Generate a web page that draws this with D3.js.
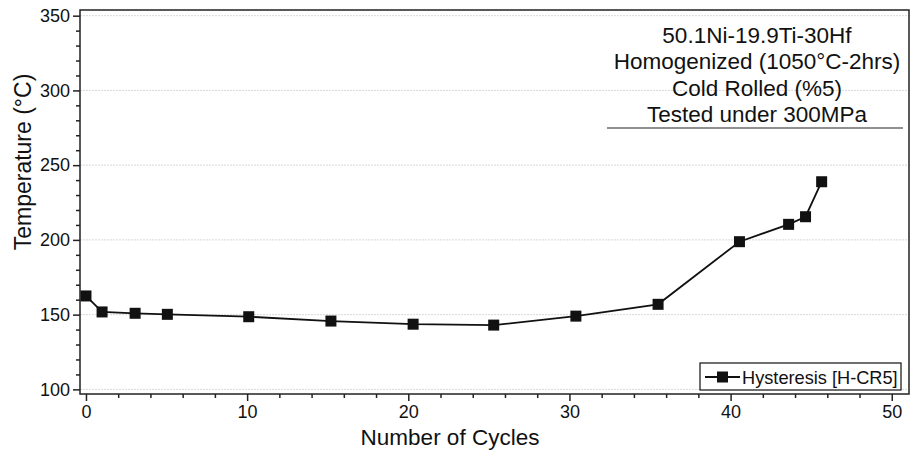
<!DOCTYPE html>
<html><head><meta charset="utf-8">
<script src="https://cdn.jsdelivr.net/npm/d3@7/dist/d3.min.js"></script>
<style>body{margin:0;background:#fff}svg{display:block}text{font-family:"Liberation Sans",Arial,sans-serif;fill:#111}</style>
</head><body><svg id="c" width="915" height="455"></svg>
<script>
const cycles = [0, 1, 3.05, 5.05, 10.1, 15.2, 20.3, 25.3, 30.4, 35.5, 40.55, 43.6, 44.65, 45.65];
const temps = [162.5, 151.8, 150.9, 150.2, 148.6, 145.7, 143.6, 143, 149, 156.9, 198.8, 210.4, 215.5, 238.9];
const xTicks = [0, 10, 20, 30, 40, 50];
const yTicks = [100, 150, 200, 250, 300, 350];
const annotation = ["50.1Ni-19.9Ti-30Hf", "Homogenized (1050°C-2hrs)", "Cold Rolled (%5)", "Tested under 300MPa"];
const seriesName = "Hysteresis [H-CR5]";

const svg = d3.select("#c");
const L = 80, R = 909, T = 10, B = 394;
const x = d3.scaleLinear().domain([-0.37, 51.07]).range([L, R]);
const y = d3.scaleLinear().domain([96.9, 353.8]).range([B, T]);

// grid
svg.append("g").selectAll("line").data(yTicks).join("line")
  .attr("x1", L).attr("x2", R).attr("y1", d => y(d)).attr("y2", d => y(d))
  .attr("stroke", "#d8d8d8").attr("stroke-width", 1).attr("stroke-dasharray", "2,1");

// frame
svg.append("rect").attr("x", L).attr("y", T).attr("width", R - L).attr("height", B - T)
  .attr("fill", "none").attr("stroke", "#222").attr("stroke-width", 1.5);

// x axis
const xMinor = d3.range(0, 51, 2).filter(d => d % 10 !== 0);
const xa = svg.append("g").attr("transform", `translate(0,${B})`);
xa.call(d3.axisBottom(x).tickValues(xTicks).tickSize(7).tickPadding(4).tickFormat(d3.format("d")));
xa.append("g").call(d3.axisBottom(x).tickValues(xMinor).tickSize(4).tickFormat(""));
xa.selectAll(".domain").remove();
xa.selectAll("line").attr("stroke", "#222").attr("stroke-width", 1.5);
xa.selectAll("text").attr("font-size", 18).attr("font-family", "Liberation Sans, Arial").attr("fill", "#111");

// y axis
const yMinor = d3.range(100, 351, 10).filter(d => d % 50 !== 0);
const ya = svg.append("g").attr("transform", `translate(${L},0)`);
ya.call(d3.axisLeft(y).tickValues(yTicks).tickSize(7).tickPadding(3).tickFormat(d3.format("d")));
ya.append("g").call(d3.axisLeft(y).tickValues(yMinor).tickSize(4).tickFormat(""));
ya.selectAll(".domain").remove();
ya.selectAll("line").attr("stroke", "#222").attr("stroke-width", 1.5);
ya.selectAll("text").attr("font-size", 18).attr("font-family", "Liberation Sans, Arial").attr("fill", "#111");

// axis labels
svg.append("text").attr("x", 450).attr("y", 445).attr("text-anchor", "middle")
  .attr("font-size", 22.5).text("Number of Cycles");
svg.append("text").attr("transform", "translate(31,162) rotate(-90)").attr("text-anchor", "middle")
  .attr("font-size", 23).text("Temperature (°C)");

// data line
const data = cycles.map((c, i) => ({c, t: temps[i]}));
svg.append("path").datum(data)
  .attr("d", d3.line().x(d => x(d.c)).y(d => y(d.t)))
  .attr("fill", "none").attr("stroke", "#111").attr("stroke-width", 1.8);
svg.append("g").selectAll("rect").data(data).join("rect")
  .attr("x", d => x(d.c) - 5.5).attr("y", d => y(d.t) - 5.5).attr("width", 11).attr("height", 11)
  .attr("fill", "#111");

// annotation
const ann = svg.append("g");
annotation.forEach((s, i) => {
  ann.append("text").attr("x", 757).attr("y", 43 + i * 26.3).attr("text-anchor", "middle")
    .attr("font-size", 22.5).text(s);
});
ann.append("line").attr("x1", 607).attr("x2", 903).attr("y1", 128).attr("y2", 128)
  .attr("stroke", "#222").attr("stroke-width", 1.2);

// legend
const lg = svg.append("g");
lg.append("rect").attr("x", 700).attr("y", 363).attr("width", 201).attr("height", 27)
  .attr("fill", "#fff").attr("stroke", "#222").attr("stroke-width", 1.3);
lg.append("line").attr("x1", 705).attr("x2", 740).attr("y1", 377).attr("y2", 377)
  .attr("stroke", "#111").attr("stroke-width", 1.8);
lg.append("rect").attr("x", 717).attr("y", 371.5).attr("width", 11).attr("height", 11).attr("fill", "#111");
lg.append("text").attr("x", 742).attr("y", 384).attr("font-size", 18.2).text(seriesName);
</script></body></html>
